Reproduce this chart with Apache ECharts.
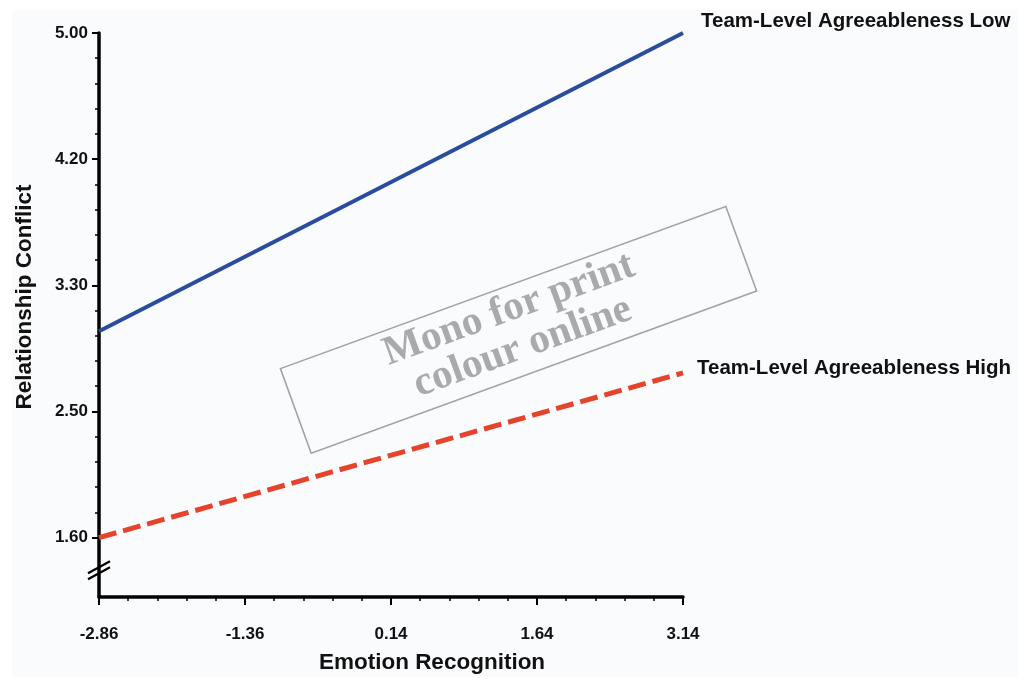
<!DOCTYPE html>
<html>
<head>
<meta charset="utf-8">
<script src="https://cdn.jsdelivr.net/npm/echarts@6/dist/echarts.min.js"></script>
<style>
  html, body { margin: 0; padding: 0; background: #ffffff; }
  #paper { position: absolute; left: 12px; top: 10px; right: 0; bottom: 2px; background: #fafbfd; }
  #chart { position: absolute; left: 0; top: 0; width: 1018px; height: 679px; }
</style>
</head>
<body>
<div id="paper"></div>
<div id="chart"></div>
<script>
// Simple slopes: relationship conflict vs emotion recognition
const xRange = [-2.86, 3.14];
const yRange = [1.2, 5.0];
const xTickValues = [-2.86, -1.36, 0.14, 1.64, 3.14];
const yTickValues = [1.6, 2.45, 3.3, 4.15, 5.0];
const yTickLabels = ['1.60', '2.50', '3.30', '4.20', '5.00'];

const seriesNames = ['Team-Level Agreeableness Low', 'Team-Level Agreeableness High'];
const xValues = [-2.86, 3.14];
const lowValues = [2.99, 5.00];
const highValues = [1.60, 2.71];

const xAxisName = 'Emotion Recognition';
const yAxisName = 'Relationship Conflict';
const stampLines = ['Mono for print', 'colour online'];

// five sub-divisions between neighbouring major ticks
function minorOf(ticks) {
  const out = [];
  for (let i = 0; i < ticks.length - 1; i++) {
    const a = ticks[i], b = ticks[i + 1];
    for (let k = 1; k < 5; k++) out.push(a + (b - a) * k / 5);
  }
  return out;
}

const pairs = (ys) => xValues.map((x, i) => [x, ys[i]]);

const labelFont = { fontFamily: 'Liberation Sans, Arial, sans-serif', fontWeight: 'bold', color: '#111' };

const chart = echarts.init(document.getElementById('chart'), null, { renderer: 'canvas' });

const option = {
  backgroundColor: 'transparent',
  animation: false,
  grid: { left: 99, right: 335, top: 33, bottom: 78 },
  xAxis: [
    {
      type: 'value', min: xRange[0], max: xRange[1], position: 'bottom',
      name: xAxisName, nameLocation: 'middle', nameGap: 54,
      nameTextStyle: Object.assign({ fontSize: 22.5, padding: [0, 0, 0, 82] }, labelFont),
      axisLine: { show: true, onZero: false, lineStyle: { color: '#000', width: 3.5 } },
      axisTick: { show: true, customValues: xTickValues, length: 8, lineStyle: { color: '#000', width: 2 } },
      axisLabel: Object.assign({ customValues: xTickValues, margin: 29, fontSize: 17,
        formatter: (v) => v.toFixed(2) }, labelFont),
      splitLine: { show: false }
    },
    {
      type: 'value', min: xRange[0], max: xRange[1], position: 'bottom', gridIndex: 0,
      axisLine: { show: false, onZero: false },
      axisTick: { show: true, customValues: minorOf(xTickValues), length: 4, lineStyle: { color: '#000', width: 1.5 } },
      axisLabel: { show: false },
      splitLine: { show: false }
    }
  ],
  yAxis: [
    {
      type: 'value', min: yRange[0], max: yRange[1], position: 'left',
      name: yAxisName, nameLocation: 'middle', nameGap: 63, nameRotate: 90,
      nameTextStyle: Object.assign({ fontSize: 22.5, padding: [0, 0, 0, 36] }, labelFont),
      axisLine: { show: true, onZero: false, lineStyle: { color: '#000', width: 3.5 } },
      axisTick: { show: true, customValues: yTickValues, length: 7, lineStyle: { color: '#000', width: 2 } },
      axisLabel: Object.assign({ customValues: yTickValues, margin: 11, fontSize: 17,
        formatter: (v) => {
          const i = yTickValues.findIndex((t) => Math.abs(t - v) < 1e-6);
          return i >= 0 ? yTickLabels[i] : '';
        } }, labelFont),
      splitLine: { show: false }
    },
    {
      type: 'value', min: yRange[0], max: yRange[1], position: 'left', gridIndex: 0,
      axisLine: { show: false, onZero: false },
      axisTick: { show: true, customValues: minorOf(yTickValues), length: 4, lineStyle: { color: '#000', width: 1.5 } },
      axisLabel: { show: false },
      splitLine: { show: false }
    }
  ],
  series: [
    {
      name: seriesNames[0], type: 'line', data: pairs(lowValues),
      xAxisIndex: 0, yAxisIndex: 0, symbol: 'none',
      lineStyle: { color: '#2a4c9c', width: 4 },
      endLabel: Object.assign({ show: true, formatter: '{a}', fontSize: 20.5, distance: 18, offset: [0, -12] }, labelFont)
    },
    {
      name: seriesNames[1], type: 'line', data: pairs(highValues),
      xAxisIndex: 0, yAxisIndex: 0, symbol: 'none',
      lineStyle: { color: '#e5432c', width: 5, type: [18, 7] },
      endLabel: Object.assign({ show: true, formatter: '{a}', fontSize: 20.5, distance: 14, offset: [0, -5] }, labelFont)
    }
  ]
};
chart.setOption(option);

// axis break mark and the boxed stamp, placed through the grid's coordinate system
const brk = chart.convertToPixel({ gridIndex: 0 }, [xRange[0], 1.38]);
const stamp = chart.convertToPixel({ gridIndex: 0 }, [1.45, 3.0]);
const slash = (dy) => ({
  type: 'line',
  shape: { x1: brk[0] - 11, y1: brk[1] + 6 + dy, x2: brk[0] + 11, y2: brk[1] - 6 + dy },
  style: { stroke: '#000', lineWidth: 2.2 }
});
chart.setOption({
  graphic: [
    slash(-3), slash(3),
    {
      type: 'group', x: stamp[0], y: stamp[1], rotation: 20 * Math.PI / 180,
      children: [
        { type: 'rect', shape: { x: -237, y: -45, width: 474, height: 90 },
          style: { fill: 'rgba(255,255,255,0)', stroke: '#a3a3a3', lineWidth: 1.6 } },
        { type: 'text', x: -2, y: -2,
          style: { text: stampLines.join('\n'), fill: '#a8aaad', font: 'bold 41px "Liberation Serif", "Times New Roman", serif',
            align: 'center', verticalAlign: 'middle', lineHeight: 40 } }
      ]
    }
  ]
});
</script>
</body>
</html>
